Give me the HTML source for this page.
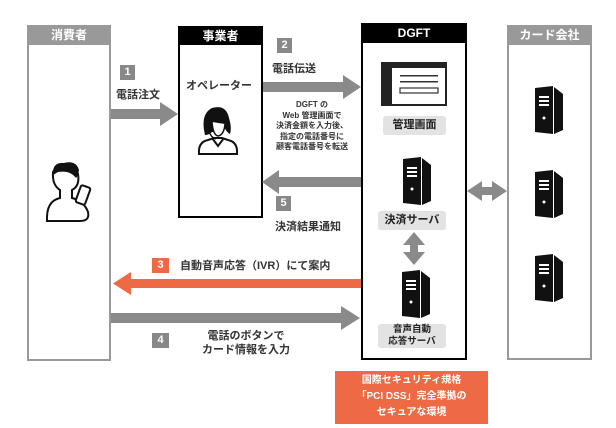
<!DOCTYPE html>
<html><head><meta charset="utf-8"><style>
body{margin:0;background:#fff;width:616px;height:428px;overflow:hidden;position:relative;font-family:"Liberation Sans","Noto Sans CJK JP",sans-serif;}
.a{position:absolute;}
.t{position:absolute;font-weight:bold;color:#333;white-space:nowrap;}
.hd{position:absolute;color:#fff;font-weight:bold;font-size:12px;text-align:center;line-height:20px;}
.num{position:absolute;width:15px;height:15px;background:#888;color:#fff;font-size:11px;font-weight:bold;text-align:center;line-height:15px;}
.lbl{position:absolute;background:#e3e3e3;border-radius:3px;font-size:11px;font-weight:bold;color:#222;text-align:center;}
</style></head><body>
<svg class="a" style="left:0;top:0" width="616" height="428">
<defs>
<g id="srv"><polygon points="0,2 18,0 18,48 0,46" fill="#111"/><polygon points="19,1 28,8 28,44 19,48" fill="#111"/><rect x="4" y="10" width="10" height="2" fill="#fff"/><rect x="4" y="14" width="10" height="2" fill="#fff"/><rect x="4" y="18" width="10" height="2" fill="#fff"/><circle cx="9" cy="32" r="1.5" fill="#fff"/></g>
</defs>
<!-- boxes -->
<rect x="28" y="26" width="82" height="334" fill="none" stroke="#999" stroke-width="2"/>
<rect x="28" y="25" width="82" height="20" fill="#999"/>
<rect x="179" y="27" width="83" height="190" fill="none" stroke="#000" stroke-width="2"/>
<rect x="178" y="26" width="85" height="19" fill="#000"/>
<rect x="362" y="24" width="104" height="335" fill="none" stroke="#000" stroke-width="2"/>
<rect x="361" y="23" width="106" height="20" fill="#000"/>
<rect x="508" y="26" width="83" height="333" fill="none" stroke="#999" stroke-width="2"/>
<rect x="507" y="25" width="85" height="20" fill="#999"/>
<!-- arrows -->
<g fill="#8a8a8a">
<rect x="111" y="109" width="52" height="10"/><polygon points="160,102 178,114 160,126"/>
<rect x="263" y="82" width="82" height="10"/><polygon points="343,75 361,87 343,99"/>
<rect x="276" y="177" width="85" height="10"/><polygon points="279,170 262,182 279,194"/>
<rect x="111" y="313" width="232" height="10"/><polygon points="341,306 360,318 341,330"/>
<rect x="480" y="187" width="14" height="8"/><polygon points="482,181 467,191 482,201"/><polygon points="492,181 507,191 492,201"/>
<rect x="410" y="240" width="8" height="16"/><polygon points="403,245 414,232 425,245"/><polygon points="403,252 414,265 425,252"/>
</g>
<rect x="127" y="279" width="234" height="9" fill="#ee6a45"/><polygon points="131,272 113,283.5 131,295" fill="#ee6a45"/>
<!-- window icon -->
<rect x="381" y="62" width="66" height="44" fill="#222"/>
<rect x="392" y="68" width="53" height="36" fill="#fff"/>
<rect x="400" y="75" width="38" height="1.5" fill="#333"/><rect x="400" y="81" width="38" height="1.5" fill="#333"/>
<rect x="400" y="88" width="38" height="5" fill="none" stroke="#333" stroke-width="1.2"/>
<use href="#srv" x="403" y="157"/>
<use href="#srv" x="402" y="270"/>
<use href="#srv" x="535" y="86"/>
<use href="#srv" x="535" y="170"/>
<use href="#srv" x="535" y="254"/>
<!-- consumer icon -->
<g fill="none" stroke="#111" stroke-width="2">
<path d="M47,221 Q46,201 60,198 L60,190 Q52,185 53,172 Q58,164 66,166 Q76,166 78,174 Q80,186 72,190 L72,198 Q84,201 88,212 Q90,221 80,221 Z"/>
<rect x="78" y="186" width="10" height="18" rx="2" transform="rotate(20 83 195)" fill="#fff"/>
</g>
<path d="M53,175 Q52,162 64,163 Q76,160 79,170 Q78,176 76,178 Q70,170 58,172 Z" fill="#111"/>
<!-- operator icon -->
<g fill="none" stroke="#111" stroke-width="2">
<path d="M199,154 Q198,142 208,140 L214,138 L222,138 L228,140 Q238,142 237,154 Z"/>
<path d="M212,138 L218,146 L224,138"/>
</g>
<path d="M205,135 Q200,114 212,108 Q226,104 229,118 Q232,128 230,134 Q226,132 224,126 Q218,132 212,132 Q209,135 205,135 Z" fill="#111"/>
<path d="M212,122 Q213,135 218,136 Q224,135 225,124" fill="#fff" stroke="#111" stroke-width="1.5"/>
<path d="M209,130 Q210,137 216,139" fill="none" stroke="#111" stroke-width="1.3"/>
</svg>
<div class="hd" style="left:28px;top:25px;width:82px;">消費者</div>
<div class="hd" style="left:178px;top:26px;width:85px;">事業者</div>
<div class="hd" style="left:361px;top:23px;width:106px;">DGFT</div>
<div class="hd" style="left:507px;top:25px;width:85px;">カード会社</div>
<div class="t" style="left:186px;top:77px;font-size:11px;">オペレーター</div>
<div class="num" style="left:120px;top:65px;">1</div>
<div class="t" style="left:116px;top:86px;font-size:11px;">電話注文</div>
<div class="num" style="left:277px;top:38px;">2</div>
<div class="t" style="left:272px;top:60px;font-size:11px;">電話伝送</div>
<div class="t" style="left:262px;top:100px;width:100px;text-align:center;font-size:8px;line-height:10.5px;">DGFT の<br>Web 管理画面で<br>決済金額を入力後、<br>指定の電話番号に<br>顧客電話番号を転送</div>
<div class="num" style="left:276px;top:196px;">5</div>
<div class="t" style="left:275px;top:218px;font-size:11px;">決済結果通知</div>
<div class="num" style="left:152px;top:258px;width:17px;background:#ee6a45;">3</div>
<div class="t" style="left:180px;top:257px;font-size:11px;">自動音声応答（IVR）にて案内</div>
<div class="num" style="left:152px;top:333px;width:17px;">4</div>
<div class="t" style="left:186px;top:329px;width:120px;text-align:center;font-size:11px;line-height:14px;">電話のボタンで<br>カード情報を入力</div>
<div class="lbl" style="left:383px;top:116px;width:63px;height:19px;line-height:19px;">管理画面</div>
<div class="lbl" style="left:378px;top:211px;width:68px;height:19px;line-height:19px;">決済サーバ</div>
<div class="lbl" style="left:378px;top:324px;width:68px;height:24px;font-size:9.5px;line-height:12px;">音声自動<br>応答サーバ</div>
<div class="a" style="left:335px;top:371px;width:153px;height:53px;background:#ee6a45;color:#fff;font-weight:bold;font-size:10px;line-height:16px;text-align:center;padding-top:2px;box-sizing:border-box;">国際セキュリティ規格<br>「PCI DSS」完全準拠の<br>セキュアな環境</div>
</body></html>
